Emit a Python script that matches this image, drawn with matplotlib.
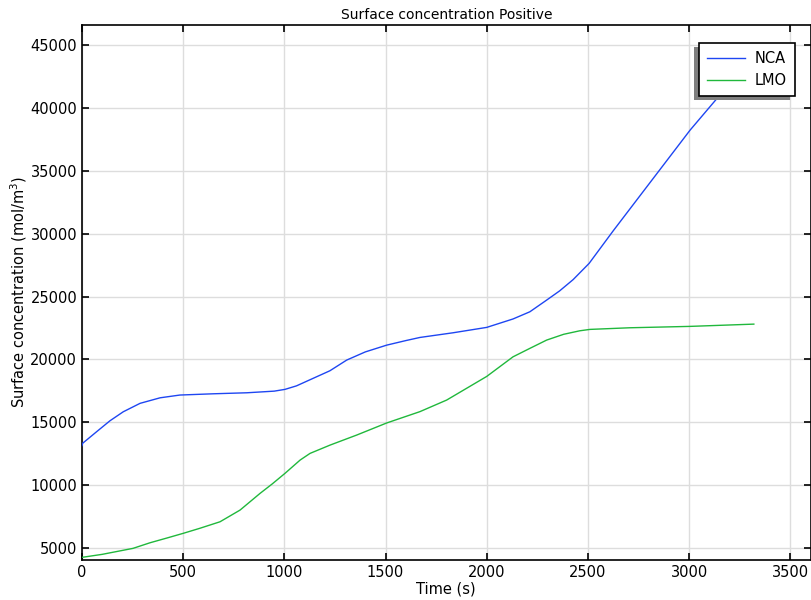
import matplotlib
matplotlib.use("Agg")
import matplotlib.pyplot as plt
from matplotlib.patches import Rectangle

# Data
nca_t = [0, 3, 72, 138, 204, 287, 386, 484, 650, 815, 950, 1003, 1060, 1141, 1225, 1308, 1400, 1506, 1600,
         1670, 1833, 2000, 2130, 2213, 2296, 2360, 2427, 2506, 2625, 2791, 3005, 3138, 3320]
nca_c = [13150, 13330, 14250, 15120, 15840, 16510, 16950, 17170, 17270, 17350, 17480, 17620, 17900, 18490,
         19100, 19950, 20600, 21140, 21500, 21750, 22120, 22550, 23220, 23790, 24720, 25450, 26350, 27640,
         30230, 33730, 38240, 40760, 44300]
lmo_t = [0, 100, 252, 336, 420, 500, 582, 682, 781, 880, 940, 1003, 1078, 1127, 1226, 1358, 1506,
         1670, 1802, 1900, 2000, 2130, 2213, 2296, 2380, 2460, 2510, 2707, 3005, 3320]
lmo_c = [4260, 4500, 4975, 5420, 5800, 6170, 6570, 7090, 8020, 9350, 10100, 10940, 12000, 12530, 13190,
         13990, 14950, 15850, 16770, 17700, 18650, 20210, 20880, 21540, 22000, 22280, 22390, 22520,
         22630, 22810]
series_names = ["NCA", "LMO"]

fig = plt.figure(figsize=(8.11, 6.0), dpi=100)
ax = fig.add_axes([82 / 811, 40 / 600, (810.5 - 82) / 811, (560 - 25) / 600])

ax.plot(nca_t, nca_c, color="#1e46f2", lw=1.0, label=series_names[0], zorder=3)
ax.plot(lmo_t, lmo_c, color="#20b83c", lw=1.0, label=series_names[1], zorder=3)

ax.set_xlim(0, 3600)
ax.set_ylim(4050, 46600)
ax.set_xticks([0, 500, 1000, 1500, 2000, 2500, 3000, 3500])
ax.set_yticks(range(5000, 45001, 5000))
ax.grid(True, color="#dddddd", lw=1.0)
ax.set_axisbelow(True)
ax.tick_params(direction="in", top=True, right=True, length=5, width=1.2, labelsize=10.5, colors="black")
for s in ax.spines.values():
    s.set_linewidth(1.2)
    s.set_color("black")

ax.set_title("Surface concentration Positive", fontsize=10, pad=4)
ax.set_xlabel("Time (s)", fontsize=10.5, labelpad=1)
ax.set_ylabel("Surface concentration (mol/m$^3$)", fontsize=10.5)
ax.yaxis.set_label_coords(-0.073, 0.5)

leg = ax.legend(loc="upper right", bbox_to_anchor=((795 - 82) / (810.5 - 82), (560 - 43) / (560 - 25)),
                borderaxespad=0, fancybox=False, framealpha=1, edgecolor="black", fontsize=10.5,
                handlelength=2.6, handletextpad=0.7, borderpad=0.55, labelspacing=0.5)
leg.get_frame().set_linewidth(1.2)
leg.set_zorder(6)

fig.canvas.draw()
bb = leg.get_window_extent()
shadow = Rectangle((bb.x0 - 5, bb.y0 - 4), bb.width, bb.height, transform=None,
                   facecolor="#7f7f7f", edgecolor="none", zorder=5)
ax.add_artist(shadow)

fig.savefig("out.png", dpi=100)
